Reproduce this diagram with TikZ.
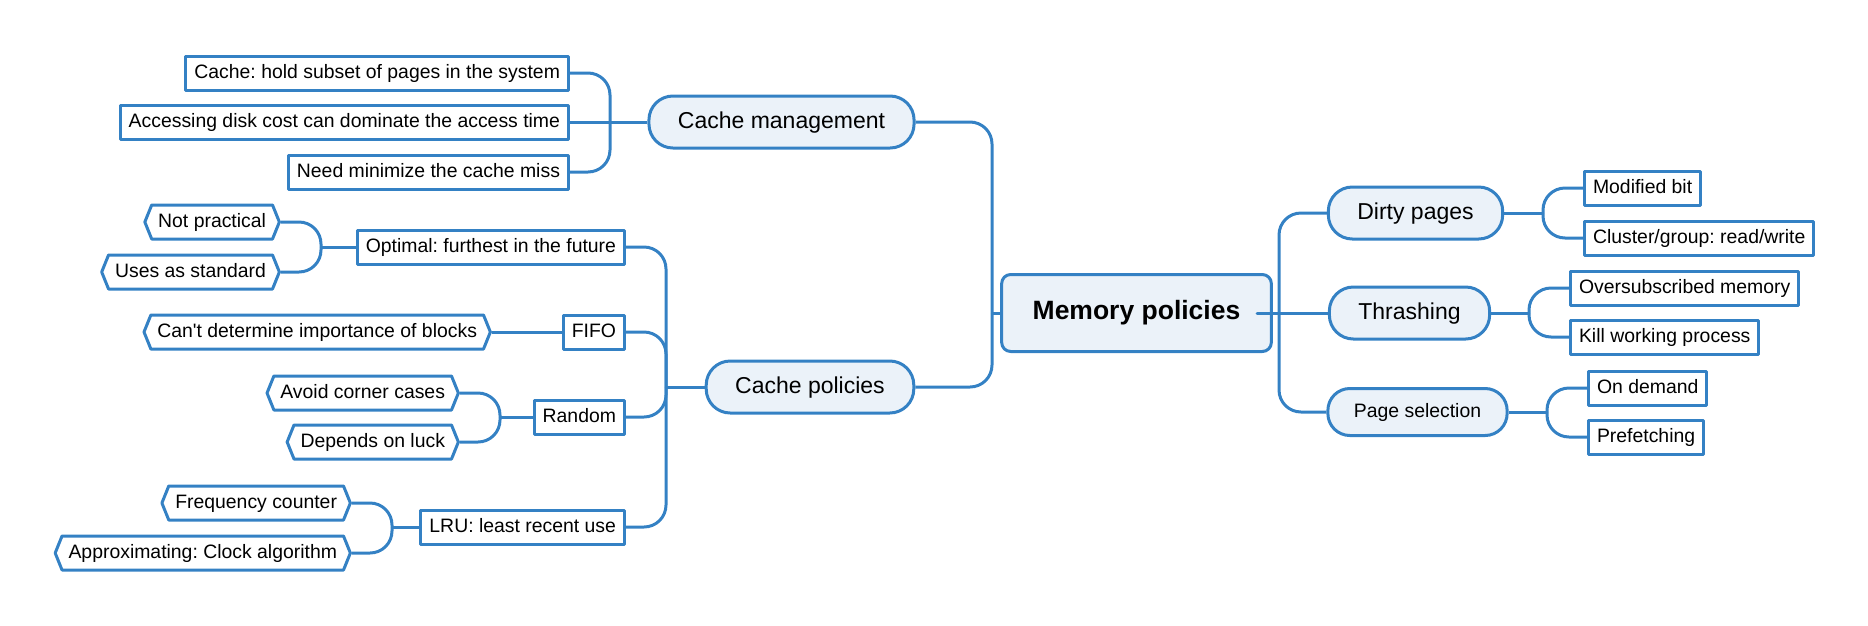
\documentclass[tikz,border=0pt]{standalone}
\usepackage{fontspec}
\setmainfont{Liberation Sans}
\usetikzlibrary{shapes.symbols}

\definecolor{mmblue}{RGB}{52,129,196}
\definecolor{mmfill}{RGB}{235,242,249}

\begin{document}
\frenchspacing
\begin{tikzpicture}[x=1pt,y=-1pt,line join=round,
  link/.style={draw=mmblue,line width=3pt,rounded corners=22pt},
  leaf/.style={draw=mmblue,line width=3pt,fill=white,inner xsep=8.5pt,
    minimum height=34pt,text height=14pt,text depth=4pt,
    font=\fontsize{19.4}{22}\selectfont},
  hexleaf/.style={leaf,shape=signal,signal to=west and east,
    signal pointer angle=136,inner xsep=6.5pt},
  topic/.style={draw=mmblue,line width=3pt,fill=mmfill,rounded corners=24pt,
    inner xsep=29pt,minimum height=52pt,text height=16.5pt,text depth=4.5pt,
    font=\fontsize{23}{26}\selectfont},
  smalltopic/.style={topic,inner xsep=26pt,minimum height=47pt,rounded corners=22pt,
    text height=14pt,text depth=4pt,font=\fontsize{19.4}{22}\selectfont},
  root/.style={draw=mmblue,line width=3pt,fill=mmfill,rounded corners=9pt,
    inner xsep=31pt,minimum height=77pt,text height=19pt,text depth=5.5pt,
    font=\bfseries\fontsize{26.5}{30}\selectfont}]

  \useasboundingbox (0,0) rectangle (1868,625);

  % centre and main branches
  \node[root]  (mem)     at (1136.5,313) {Memory policies};
  \node[topic] (cmgmt)   at (781.5,122)  {Cache management};
  \node[topic] (cpol)    at (810,387)    {Cache policies};
  \node[topic] (dirty)   at (1415.5,213) {Dirty pages};
  \node[topic] (thrash)  at (1409.5,313) {Thrashing};
  \node[smalltopic] (pagesel) at (1417.5,412) {Page selection};

  % cache management
  \node[leaf,anchor=east] (hold) at (570,73)  {Cache: hold subset of pages in the system};
  \node[leaf,anchor=east] (disk) at (570,122) {Accessing disk cost can dominate the access time};
  \node[leaf,anchor=east] (miss) at (570,172) {Need minimize the cache miss};

  % cache policies
  \node[leaf,anchor=east] (opt)  at (626,247) {Optimal: furthest in the future};
  \node[leaf,anchor=east] (fifo) at (626,332) {FIFO};
  \node[leaf,anchor=east] (rand) at (626,417) {Random};
  \node[leaf,anchor=east] (lru)  at (626,527) {LRU: least recent use};

  \node[hexleaf,anchor=east] (notprac) at (281,222) {Not practical};
  \node[hexleaf,anchor=east] (std)     at (281,272) {Uses as standard};
  \node[hexleaf,anchor=east] (blocks)  at (492,332) {Can\textquotesingle t determine importance of blocks};
  \node[hexleaf,anchor=east] (corner)  at (460,393) {Avoid corner cases};
  \node[hexleaf,anchor=east] (luck)    at (460,442) {Depends on luck};
  \node[hexleaf,anchor=east] (freq)    at (352,503) {Frequency counter};
  \node[hexleaf,anchor=east] (clock)   at (352,553) {Approximating: Clock algorithm};

  % right side
  \node[leaf,anchor=west] (modbit)   at (1583,188) {Modified bit};
  \node[leaf,anchor=west] (cluster)  at (1583,238) {Cluster/group: read/write};
  \node[leaf,anchor=west] (oversub)  at (1569,288) {Oversubscribed memory};
  \node[leaf,anchor=west] (kill)     at (1569,337) {Kill working process};
  \node[leaf,anchor=west] (demand)   at (1587,388) {On demand};
  \node[leaf,anchor=west] (prefetch) at (1587,437) {Prefetching};

  % junctions
  \coordinate (cmj)    at (610,122);
  \coordinate (optj)   at (321,247);
  \coordinate (randj)  at (500,417);
  \coordinate (lruj)   at (392,527);
  \coordinate (cpj)    at (666,387);
  \coordinate (lj)     at (992,313);
  \coordinate (rj)     at (1279,313);
  \coordinate (dirtyj) at (1543,213);
  \coordinate (thrj)   at (1529,313);
  \coordinate (pagej)  at (1547,412);

  \draw[link] (hold.east) -| (cmj);
  \draw[link] (miss.east) -| (cmj);
  \draw[link] (disk.east) -- (cmj) -- (cmgmt.west);
  \draw[link] (cmgmt.east) -| (lj);
  \draw[link] (cpol.east) -| (lj);
  \draw[link] (mem.west) -- (lj);

  \draw[link] (opt.east) -| (cpj);
  \draw[link] (fifo.east) -| (cpj);
  \draw[link] (rand.east) -| (cpj);
  \draw[link] (lru.east) -| (cpj);
  \draw[link] (cpol.west) -- (cpj);

  \draw[link] (notprac.east) -| (optj);
  \draw[link] (std.east) -| (optj);
  \draw[link] (opt.west) -- (optj);
  \draw[link] (blocks.east) -- (fifo.west);
  \draw[link] (corner.east) -| (randj);
  \draw[link] (luck.east) -| (randj);
  \draw[link] (rand.west) -- (randj);
  \draw[link] (freq.east) -| (lruj);
  \draw[link] (clock.east) -| (lruj);
  \draw[link] (lru.west) -- (lruj);

  \draw[link] (dirty.west) -| (rj);
  \draw[link] (pagesel.west) -| (rj);
  \draw[link] (mem.east) -- (rj) -- (thrash.west);
  \draw[link] (modbit.west) -| (dirtyj);
  \draw[link] (cluster.west) -| (dirtyj);
  \draw[link] (dirty.east) -- (dirtyj);
  \draw[link] (oversub.west) -| (thrj);
  \draw[link] (kill.west) -| (thrj);
  \draw[link] (thrash.east) -- (thrj);
  \draw[link] (demand.west) -| (pagej);
  \draw[link] (prefetch.west) -| (pagej);
  \draw[link] (pagesel.east) -- (pagej);
\end{tikzpicture}
\end{document}
